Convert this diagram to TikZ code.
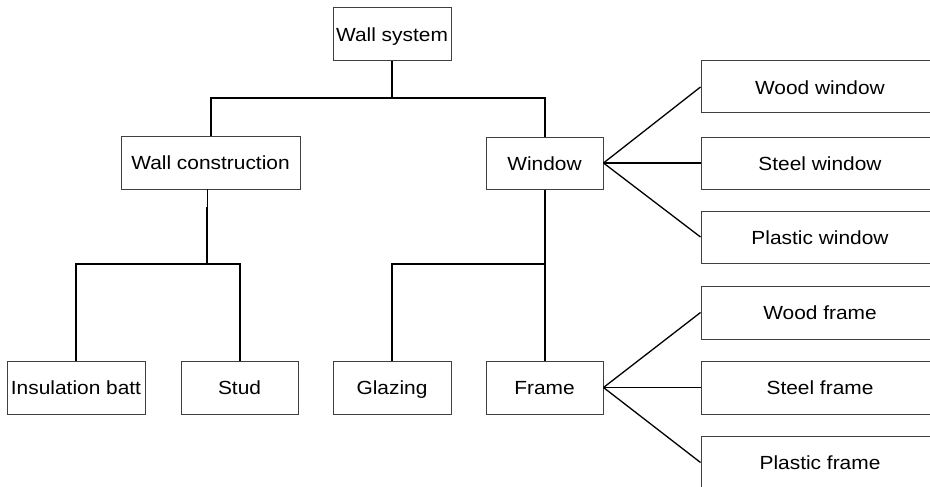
\documentclass[tikz,border=0pt]{standalone}
\usepackage{fontspec}
\setmainfont{Liberation Sans}[FakeStretch=1.1]
\begin{document}
\begin{tikzpicture}[x=1pt,y=-1pt,
  box/.style={draw=black!75,line width=1pt,rectangle,minimum height=53pt,inner sep=0pt,
    text height=14.2pt,text depth=0pt,
    font=\fontsize{19}{22}\selectfont},
  thinline/.style={draw=black,line width=1pt},
  thickline/.style={draw=black,line width=2pt},
  diag/.style={draw=black,line width=1.3pt}]
\useasboundingbox (0,0) rectangle (930,487);
\clip (0,0) rectangle (930,487);
% nodes
\node[box,minimum width=118pt] (ws) at (392,34.5) {Wall system};
\node[box,minimum width=179pt] (wc) at (210.5,162.5) {Wall construction};
\node[box,minimum width=117pt,minimum height=52pt] (win) at (544.5,163) {Window};
\node[box,minimum width=138pt] (ib) at (76,387.5) {Insulation batt};
\node[box,minimum width=117pt] (stud) at (239.5,387.5) {Stud};
\node[box,minimum width=118pt] (gl) at (392,387.5) {Glazing};
\node[box,minimum width=117pt] (fr) at (544.5,387.5) {Frame};
\node[box,minimum width=238pt,minimum height=52pt] (ww) at (820,87) {Wood window};
\node[box,minimum width=238pt,minimum height=52pt] (sw) at (820,163) {Steel window};
\node[box,minimum width=238pt,minimum height=52pt] (pw) at (820,237) {Plastic window};
\node[box,minimum width=238pt] (wf) at (820,312.5) {Wood frame};
\node[box,minimum width=238pt] (sf) at (820,387.5) {Steel frame};
\node[box,minimum width=238pt] (pf) at (820,462.5) {Plastic frame};
% top level
\coordinate (j0) at (392,98);
\draw[thickline] (ws.south) -- (j0);
\draw[thickline] (wc.north) |- (j0) -| (win.north);
% wall construction branch
\coordinate (wcs) at (207,189);
\coordinate (wcm) at (207,207);
\coordinate (j1) at (207,264);
\draw[thinline] (wcs) -- (wcm);
\draw[thickline] (wcm) -- (j1);
\draw[thickline] (ib.north) |- (j1) -| (stud.north);
% window branch
\coordinate (j2) at (544.5,264);
\draw[thickline] (win.south) -- (j2) -- (fr.north);
\draw[thickline] (j2) -| (gl.north);
% fans
\draw[diag] (win.east) -- (ww.west);
\draw[diag] (win.east) -- (sw.west);
\draw[diag] (win.east) -- (pw.west);
\draw[diag] (fr.east) -- (wf.west);
\draw[diag] (fr.east) -- (sf.west);
\draw[diag] (fr.east) -- (pf.west);
\end{tikzpicture}
\end{document}
